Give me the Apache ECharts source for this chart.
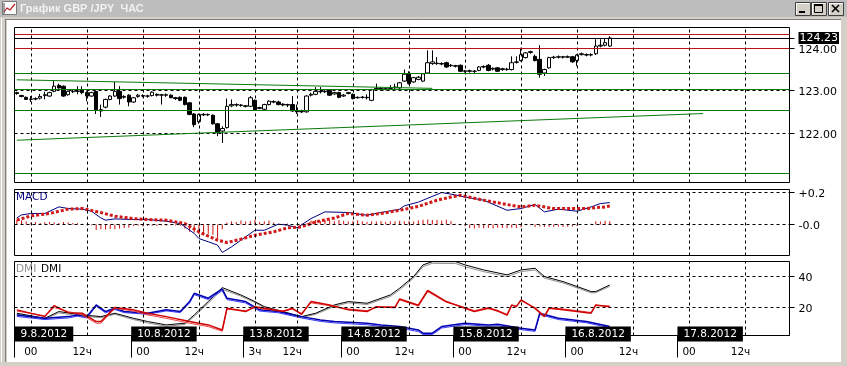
<!DOCTYPE html>
<html>
<head>
<meta charset="utf-8">
<title>График GBP/JPY ЧАС</title>
<script src="https://cdn.jsdelivr.net/npm/echarts@6.0.0/dist/echarts.min.js"></script>
<style>
html,body{margin:0;padding:0;background:#fff;overflow:hidden;}
#chart{width:847px;height:366px;}
</style>
</head>
<body>
<div id="chart"></div>
<script>
// ---------------- data ----------------
const SLOT_COUNT = 166;
const categories = [];
(function () {
  let d = 8, h = 21;
  for (let i = 0; i < SLOT_COUNT; i++) {
    categories.push(d + '.8.2012 ' + (h < 10 ? '0' : '') + h + ':00');
    h++; if (h === 24) { h = 0; d++; }
    if (d === 10 && h === 21) { d = 13; h = 0; }
  }
})();
const boundaryCategories = Array.from({ length: SLOT_COUNT + 1 }, (_, k) => String(k));

// candles: [open, close, low, high]
const ohlc = [
[122.95,122.93,122.90,122.97],[122.88,122.86,122.84,122.90],[122.84,122.79,122.78,122.86],[122.79,122.80,122.73,122.87],[122.80,122.81,122.77,122.84],
[122.82,122.86,122.79,122.92],[122.88,122.90,122.79,122.97],[122.87,122.95,122.85,122.97],[122.98,123.10,122.96,123.22],[123.12,123.06,123.04,123.16],
[123.10,122.87,122.85,123.12],[122.90,122.98,122.88,123.00],[122.97,122.98,122.94,123.03],[122.99,122.98,122.91,123.10],[123.02,122.95,122.91,123.10],
[122.95,122.87,122.75,122.98],[122.87,122.95,122.85,122.97],[122.98,122.55,122.45,123.00],[122.55,122.52,122.38,122.67],[122.61,122.79,122.58,122.81],
[122.79,122.87,122.77,122.89],[122.87,122.98,122.85,123.20],[122.98,122.81,122.67,123.10],[122.84,122.86,122.81,122.89],[122.89,122.73,122.63,122.91],
[122.73,122.83,122.71,122.85],[122.86,122.89,122.83,122.92],[122.88,122.87,122.84,122.91],[122.87,122.87,122.83,122.90],[122.88,122.96,122.86,122.98],
[122.91,122.89,122.86,122.93],[122.89,122.90,122.67,122.92],[122.90,122.89,122.85,122.93],[122.89,122.83,122.82,122.91],[122.83,122.81,122.78,122.85],
[122.84,122.77,122.75,122.86],[122.84,122.67,122.65,122.86],[122.71,122.44,122.42,122.73],[122.45,122.20,122.14,122.47],[122.27,122.44,122.22,122.46],
[122.44,122.43,122.40,122.47],[122.43,122.44,122.40,122.46],[122.42,122.22,122.20,122.44],[122.22,122.01,121.93,122.24],[122.05,122.11,121.77,122.16],
[122.13,122.63,122.11,122.81],[122.64,122.67,122.61,122.79],[122.67,122.66,122.62,122.70],[122.66,122.65,122.62,122.68],[122.64,122.63,122.60,122.66],
[122.63,122.83,122.61,122.87],[122.77,122.55,122.54,122.79],[122.58,122.60,122.56,122.62],[122.56,122.67,122.54,122.69],[122.67,122.75,122.65,122.77],
[122.74,122.73,122.70,122.77],[122.73,122.67,122.65,122.76],[122.68,122.66,122.63,122.70],[122.67,122.66,122.61,122.69],[122.67,122.52,122.50,122.87],
[122.52,122.50,122.45,122.67],[122.50,122.51,122.47,122.55],[122.50,122.87,122.48,122.89],[122.89,122.91,122.86,122.95],[122.91,122.98,122.89,123.08],
[122.98,122.97,122.93,123.08],[122.97,122.98,122.94,123.01],[123.00,122.89,122.87,123.02],[122.92,122.95,122.90,122.97],[122.95,122.84,122.82,122.97],
[122.87,122.89,122.85,122.92],[122.93,122.95,122.91,122.97],[122.91,122.81,122.79,122.93],[122.83,122.84,122.81,122.86],[122.84,122.84,122.81,122.87],
[122.84,122.83,122.79,122.91],[122.77,123.02,122.75,123.04],[123.03,123.05,123.00,123.16],[123.05,123.02,122.99,123.08],[123.03,123.04,123.00,123.06],
[123.05,123.06,123.02,123.13],[123.06,123.08,123.04,123.16],[123.06,123.18,123.04,123.20],[123.22,123.38,123.20,123.49],[123.39,123.16,123.14,123.45],
[123.20,123.30,123.18,123.32],[123.26,123.31,123.24,123.34],[123.22,123.39,123.20,123.41],[123.41,123.65,123.39,123.94],[123.63,123.67,123.60,123.94],
[123.64,123.63,123.60,123.78],[123.63,123.62,123.59,123.66],[123.65,123.55,123.53,123.67],[123.58,123.59,123.55,123.62],[123.58,123.57,123.54,123.60],
[123.59,123.45,123.43,123.61],[123.45,123.46,123.42,123.48],[123.46,123.45,123.42,123.49],[123.45,123.45,123.41,123.48],[123.47,123.55,123.45,123.57],
[123.55,123.56,123.52,123.59],[123.59,123.47,123.45,123.62],[123.50,123.52,123.47,123.54],[123.53,123.45,123.43,123.55],[123.49,123.51,123.46,123.53],
[123.50,123.49,123.46,123.53],[123.49,123.65,123.47,123.80],[123.66,123.67,123.63,123.80],[123.70,123.84,123.68,124.00],[123.77,123.88,123.75,123.90],
[123.89,123.91,123.86,123.93],[123.80,123.70,123.68,123.84],[123.73,123.38,123.30,124.06],[123.41,123.49,123.34,123.51],[123.53,123.77,123.51,123.79],
[123.77,123.78,123.74,123.81],[123.78,123.79,123.75,123.82],[123.79,123.78,123.75,123.81],[123.78,123.79,123.76,123.82],[123.79,123.67,123.65,123.81],
[123.70,123.83,123.57,123.85],[123.84,123.86,123.82,123.89],[123.84,123.83,123.80,123.87],[123.83,123.84,123.80,123.87],[123.86,124.04,123.83,124.20],
[124.04,124.06,124.01,124.20],[124.06,124.12,124.03,124.22],[124.04,124.23,124.02,124.27]
];

const priceTicks = [122, 123, 124];
const currentPrice = 124.23;
const redLevels = [124.31, 124.00];
const greenLevels = [123.41, 123.04, 122.53, 121.06];
const trendLines = [[[0, 121.835], [147, 122.46]], [[0, 123.25], [89, 123.05]]];

// MACD panel: [slot, value]
const macdLine = [[0,0.041],[1,0.06],[3,0.069],[6,0.069],[9,0.11],[11,0.10],[14,0.096],[16,0.083],[18,0.041],[19,0.027],[21,0.035],[25,0.031],[28,0.031],[32,0.021],[35,0.006],[38,-0.056],[39,-0.088],[41,-0.108],[43,-0.129],[44,-0.175],[46,-0.14],[48,-0.098],[51,-0.036],[53,-0.036],[56,0.002],[58,-0.004],[60,-0.021],[63,0.037],[66,0.079],[71,0.075],[75,0.058],[78,0.075],[82,0.096],[83,0.117],[86,0.14],[91,0.2],[93,0.19],[96,0.172],[100,0.152],[105,0.089],[108,0.1],[111,0.125],[113,0.079],[116,0.096],[120,0.083],[123,0.11],[125,0.131],[127,0.137]];
const signalLine = [[0,0.027],[3,0.054],[7,0.069],[11,0.096],[14,0.1],[18,0.075],[21,0.052],[25,0.037],[28,0.031],[32,0.027],[36,0.006],[39,-0.046],[43,-0.098],[45,-0.113],[48,-0.092],[51,-0.067],[55,-0.046],[58,-0.021],[61,-0.015],[64,0.016],[68,0.041],[71,0.069],[75,0.058],[78,0.069],[82,0.089],[86,0.113],[90,0.152],[93,0.172],[95,0.183],[100,0.152],[105,0.125],[108,0.11],[111,0.12],[115,0.1],[118,0.1],[122,0.1],[126,0.11],[127,0.116]];
const macdHist = [
0.027,0.025,0.02,0.012,0.015,0.01,0.014,0.016,0.012,0.01,
0.015,0.012,0.01,0.008,0.005,0,-0.004,-0.035,-0.03,-0.032,
-0.028,-0.03,-0.025,-0.022,-0.02,-0.01,-0.008,-0.012,-0.01,-0.008,
-0.01,-0.006,-0.008,-0.005,-0.006,-0.008,-0.025,-0.046,-0.05,-0.06,
-0.062,-0.058,-0.064,-0.088,-0.03,0.012,0.02,0.015,0.025,0.018,
0.022,0.03,0.015,0.02,0.025,0.012,0.005,0.004,0.006,0.003,
0.002,0.004,0.006,0.025,0.028,0.022,0.03,0.026,0.02,0.028,
0.024,0.018,0.022,0.026,0.02,0.016,0.02,0.018,0.022,0.015,
0.02,0.018,0.024,0.02,0.022,0.018,0.025,0.03,0.032,0.028,
0.03,0.025,0.03,0.02,0.005,-0.004,-0.008,-0.022,-0.025,-0.02,
-0.024,-0.022,-0.025,-0.02,-0.022,-0.024,-0.02,-0.022,-0.018,-0.005,
-0.004,-0.015,-0.012,-0.016,-0.014,-0.015,-0.012,-0.016,-0.014,-0.012,
-0.01,0,0.002,0.004,0.02,0.018,0.024,0.02
];
const macdTicks = [0, 0.2];

// DMI panel: [slot, value]
const plusDI = [[0,18.3],[6,13.9],[8,21.1],[11,16.5],[14,16.1],[17,10.7],[18,10.7],[21,19.8],[25,18.3],[28,16.1],[32,13.9],[37,10.7],[41,8.5],[44,5.2],[45,19.3],[49,17.2],[51,20.4],[53,19.3],[57,17.2],[59,19.3],[61,15.4],[63,23.7],[67,21.5],[71,18.3],[75,17.2],[77,20.4],[81,19.8],[82,25.4],[86,21.3],[88,30.9],[92,23.7],[95,20.4],[96,19.3],[98,17.2],[101,19.3],[103,17.5],[105,14.9],[106,21.5],[107,20.4],[108,24.8],[111,19.3],[113,13.9],[114,19.3],[117,18.3],[120,17.2],[123,16.1],[124,21.5],[127,20.4]];
const plusDI2 = [[0,17.5],[6,14.5],[8,19.8],[11,17.2],[14,15.0],[17,9.6],[18,9.6],[21,19.3],[25,17.5],[28,15.0],[32,12.8],[37,9.6],[41,7.4],[44,4.4],[45,18.7],[49,17.8],[51,19.8],[53,18.7],[57,17.8],[59,18.7],[61,16.1],[63,22.9],[67,21.0],[71,18.9],[75,17.8],[77,19.8],[81,20.4],[82,24.8],[86,20.8],[88,30.2],[92,23.2],[95,20.9],[96,19.8],[98,17.8],[101,19.8],[103,18.0],[105,15.4],[106,21.0],[107,20.9],[108,24.2],[111,19.8],[113,14.4],[114,19.8],[117,18.9],[120,17.8],[123,16.6],[124,21.0],[127,20.9]];
const minusDI = [[0,15.0],[6,12.8],[11,13.9],[13,15.0],[15,13.9],[17,21.5],[19,17.2],[21,19.3],[23,17.2],[28,16.1],[32,18.3],[35,17.2],[37,23.7],[38,29.1],[41,25.9],[44,31.9],[45,25.9],[49,23.7],[52,18.3],[56,17.2],[61,13.9],[65,11.7],[68,10.7],[75,9.6],[78,8.5],[82,7.4],[86,5.2],[87,3.1],[89,3.1],[91,7.4],[96,9.6],[101,8.5],[103,9.0],[108,6.3],[111,5.2],[112,16.1],[116,12.8],[122,10.7],[127,7.4]];
const minusDI2 = [[0,14.0],[6,12.0],[11,13.0],[13,14.2],[15,13.0],[17,20.6],[19,16.4],[21,18.5],[23,16.5],[28,15.4],[32,17.6],[35,16.5],[37,22.8],[38,28.2],[41,25.0],[44,30.8],[45,25.0],[49,22.8],[52,17.5],[56,16.4],[61,13.0],[65,10.8],[68,9.8],[75,8.6],[78,7.5],[82,6.3],[86,4.2],[87,2.2],[89,2.2],[91,6.5],[96,8.7],[101,7.6],[103,8.0],[108,5.4],[111,4.3],[112,15.2],[116,12.0],[122,9.9],[127,6.6]];
const adx = [[0,16.1],[6,12.8],[9,17.2],[14,15.0],[18,13.9],[21,16.1],[25,12.8],[28,10.7],[32,8.5],[36,9.6],[38,15.0],[41,23.7],[44,32.8],[48,28.0],[51,23.7],[53,20.4],[57,17.2],[61,13.9],[64,16.1],[68,21.5],[71,23.7],[75,22.6],[80,28.0],[82,32.4],[85,40.0],[87,47.6],[89,49.7],[94,49.7],[96,47.6],[100,44.3],[105,41.1],[108,44.3],[111,45.4],[113,40.0],[117,36.7],[120,33.5],[123,30.2],[124,30.2],[127,34.5]];
const adx2 = [[0,15.4],[6,12.2],[9,16.3],[14,14.3],[18,13.2],[21,15.4],[25,12.0],[28,9.8],[32,7.6],[36,8.8],[38,14.0],[41,22.6],[44,31.7],[48,27.2],[51,23.0],[53,19.7],[57,16.5],[61,13.4],[64,15.4],[68,20.6],[71,22.9],[75,21.8],[80,27.0],[82,31.3],[85,39.0],[87,46.5],[89,48.6],[94,48.5],[96,46.4],[100,43.2],[105,40.0],[108,43.2],[111,44.3],[113,39.0],[117,35.8],[120,32.6],[123,29.4],[124,29.5],[127,33.6]];
const dmiTicks = [20, 40];

// time axis
const gridSlots = [3,15,27,39,51,60,72,84,96,108,120,132,144,156];
const timeLabels = [[3,'00'],[14,'12ч'],[27,'00'],[38,'12ч'],[51,'3ч'],[59,'12ч'],[72,'00'],[83,'12ч'],[96,'00'],[107,'12ч'],[120,'00'],[131,'12ч'],[144,'00'],[155,'12ч']];
const dateLabels = [[0,'9.8.2012'],[25,'10.8.2012'],[49,'13.8.2012'],[70,'14.8.2012'],[94,'15.8.2012'],[118,'16.8.2012'],[142,'17.8.2012']];

// ---------------- chart ----------------
const FONT = 'DejaVu Sans';
const GREEN = '#0a7a0a';
const timeMap = new Map(timeLabels);
const dateMap = new Map(dateLabels);
const dash = [3, 3];

const vLines = gridSlots.map(s => ({ xAxis: s }));
function hLine(v, color, type) { return { yAxis: v, lineStyle: { color: color, type: type || 'solid', width: 1 } }; }

const grids = [
  { left: 14.5, right: 57.5, top: 27.5, height: 155 },
  { left: 14.5, right: 57.5, top: 189.5, height: 66 },
  { left: 14.5, right: 57.5, top: 261.5, height: 74 }
].map(g => Object.assign(g, { show: true, borderColor: '#000', borderWidth: 1, backgroundColor: 'transparent', containLabel: false }));

function catAxis(gi, extra) {
  return Object.assign({
    type: 'category', gridIndex: gi, data: categories, boundaryGap: true,
    axisLine: { show: false }, axisTick: { show: false }, axisLabel: { show: false }, splitLine: { show: false }
  }, extra || {});
}
function valAxis(gi, min, max, ticks, fmt) {
  return {
    type: 'value', gridIndex: gi, position: 'right', min: min, max: max,
    axisLine: { show: false }, splitLine: { show: false },
    axisTick: { show: true, length: 5, customValues: ticks, lineStyle: { color: '#000' } },
    axisLabel: {
      show: true, customValues: ticks, margin: 9, formatter: fmt,
      rich: {
        n: { fontFamily: FONT, fontSize: 11, color: '#000', padding: [4, 0, 0, 0] },
        cur: { fontFamily: FONT, fontSize: 11, color: '#fff', backgroundColor: '#000', padding: [1, 1, 0, 1] }
      }
    }
  };
}

const option = {
  animation: false,
  backgroundColor: '#ffffff',
  grid: grids,
  xAxis: [
    catAxis(0), catAxis(1),
    catAxis(2, {
      axisLabel: {
        show: true, interval: (i) => timeMap.has(i), formatter: (v, i) => timeMap.get(i) || '',
        margin: 11, fontFamily: FONT, fontSize: 10.5, color: '#000'
      }
    }),
    {
      type: 'category', gridIndex: 2, data: boundaryCategories, boundaryGap: false, position: 'bottom', z: 10,
      axisLine: { show: true, lineStyle: { color: '#000', width: 1 } },
      axisTick: { show: true, interval: (i) => dateMap.has(i), length: 22, lineStyle: { color: '#000' } },
      axisLabel: {
        show: true, interval: (i) => dateMap.has(i), formatter: (v, i) => '{d|' + dateMap.get(i) + '}',
        margin: -7, align: 'left',
        rich: { d: { fontFamily: FONT, fontSize: 10.5, color: '#fff', backgroundColor: '#000', padding: [2, 6, 2, 6], lineHeight: 11 } }
      },
      splitLine: { show: false }
    }
  ],
  yAxis: [
    valAxis(0, 120.845, 124.475, priceTicks.concat([currentPrice]),
      v => Math.abs(v - currentPrice) < 1e-6 ? '{cur|' + currentPrice.toFixed(2) + '}' : '{n|' + v.toFixed(2) + '}'),
    valAxis(1, -0.194, 0.219, macdTicks, v => '{n|' + (v > 0 ? '+' : '-') + Math.abs(v).toFixed(1) + '}'),
    valAxis(2, 1.6, 49.8, dmiTicks, v => '{n|' + v + '}')
  ],
  series: [
    {
      type: 'line', xAxisIndex: 0, yAxisIndex: 0, data: [], z: 1, silent: true,
      markLine: {
        silent: true, symbol: 'none', label: { show: false }, animation: false,
        lineStyle: { color: '#000', type: dash, width: 1 },
        data: vLines
          .concat(priceTicks.map(v => hLine(v, '#000', dash)))
          .concat(greenLevels.map(v => hLine(v, GREEN)))
          .concat(redLevels.map(v => hLine(v, '#b81414')))
          .concat([hLine(currentPrice, '#000')])
          .concat(trendLines.map(t => [{ coord: t[0], lineStyle: { color: GREEN, type: 'solid', width: 1 } }, { coord: t[1] }]))
      }
    },
    {
      type: 'candlestick', xAxisIndex: 0, yAxisIndex: 0, data: ohlc, barWidth: 4, z: 3,
      itemStyle: { color: '#ffffff', color0: '#000000', borderColor: '#000000', borderColor0: '#000000', borderWidth: 1 }
    },
    {
      type: 'line', xAxisIndex: 1, yAxisIndex: 1, data: [], z: 1, silent: true,
      markLine: {
        silent: true, symbol: 'none', label: { show: false }, animation: false,
        lineStyle: { color: '#000', type: dash, width: 1 },
        data: vLines.concat(macdTicks.map(v => hLine(v, '#000', dash)))
      }
    },
    { type: 'bar', xAxisIndex: 1, yAxisIndex: 1, data: macdHist, barWidth: 1, itemStyle: { color: '#cc1010' }, z: 2 },
    { type: 'line', xAxisIndex: 1, yAxisIndex: 1, data: macdLine, showSymbol: false, symbol: 'none', lineStyle: { color: '#000080', width: 1 }, z: 3 },
    { type: 'line', xAxisIndex: 1, yAxisIndex: 1, data: signalLine, showSymbol: false, symbol: 'none', lineStyle: { color: '#d01818', width: 3, type: [3, 2], cap: 'butt' }, z: 4 },
    {
      type: 'line', xAxisIndex: 2, yAxisIndex: 2, data: [], z: 1, silent: true,
      markLine: {
        silent: true, symbol: 'none', label: { show: false }, animation: false,
        lineStyle: { color: '#000', type: dash, width: 1 },
        data: vLines.concat(dmiTicks.map(v => hLine(v, '#000', dash)))
      }
    },
    { type: 'line', xAxisIndex: 2, yAxisIndex: 2, data: adx2, showSymbol: false, symbol: 'none', lineStyle: { color: '#909090', width: 1 }, z: 3 },
    { type: 'line', xAxisIndex: 2, yAxisIndex: 2, data: adx, showSymbol: false, symbol: 'none', lineStyle: { color: '#000000', width: 1 }, z: 3 },
    { type: 'line', xAxisIndex: 2, yAxisIndex: 2, data: minusDI2, showSymbol: false, symbol: 'none', lineStyle: { color: '#3a3aff', width: 1 }, z: 3 },
    { type: 'line', xAxisIndex: 2, yAxisIndex: 2, data: minusDI, showSymbol: false, symbol: 'none', lineStyle: { color: '#0000b0', width: 1.5 }, z: 3 },
    { type: 'line', xAxisIndex: 2, yAxisIndex: 2, data: plusDI2, showSymbol: false, symbol: 'none', lineStyle: { color: '#ee4444', width: 1 }, z: 3 },
    { type: 'line', xAxisIndex: 2, yAxisIndex: 2, data: plusDI, showSymbol: false, symbol: 'none', lineStyle: { color: '#d00000', width: 1.5 }, z: 3 }
  ],
  graphic: [
    // window chrome
    { type: 'rect', shape: { x: 0, y: 0, width: 847, height: 19 }, style: { fill: '#c0c0c0' }, silent: true },
    { type: 'rect', shape: { x: 0, y: 17, width: 847, height: 3 }, style: { fill: '#d4d0c8' }, silent: true },
    { type: 'rect', shape: { x: 0, y: 0, width: 7, height: 366 }, style: { fill: '#d4d0c8' }, silent: true },
    { type: 'line', shape: { x1: 1.5, y1: 18, x2: 1.5, y2: 366 }, style: { stroke: '#ffffff', lineWidth: 1 }, silent: true },
    { type: 'line', shape: { x1: 5.5, y1: 19, x2: 5.5, y2: 362 }, style: { stroke: '#808080', lineWidth: 1 }, silent: true },
    { type: 'line', shape: { x1: 6, y1: 19.5, x2: 841, y2: 19.5 }, style: { stroke: '#808080', lineWidth: 1 }, silent: true },
    { type: 'rect', shape: { x: 841, y: 0, width: 6, height: 366 }, style: { fill: '#d4d0c8' }, silent: true },
    { type: 'rect', shape: { x: 0, y: 362, width: 847, height: 4 }, style: { fill: '#d4d0c8' }, silent: true },
    { type: 'rect', shape: { x: 0, y: 0, width: 847, height: 17 }, style: { fill: '#bdbdbd' }, silent: true },
    // icon
    { type: 'rect', shape: { x: 2.5, y: 1.5, width: 14, height: 13 }, style: { fill: '#ffffff', stroke: '#7a7a7a', lineWidth: 1 }, silent: true },
    { type: 'polyline', shape: { points: [[4, 12], [7, 8], [10, 10], [15, 4]] }, style: { stroke: '#c02020', lineWidth: 1.2, fill: null }, silent: true },
    { type: 'polyline', shape: { points: [[4, 14], [4, 3]] }, style: { stroke: '#404040', lineWidth: 1, fill: null }, silent: true },
    { type: 'text', style: { x: 20, y: 8.5, text: 'График GBP /JPY  ЧАС', font: 'bold 11px "Liberation Sans"', fill: '#f2f2f2', verticalAlign: 'middle' }, silent: true },
    // buttons
    ...[795, 811, 828].map(bx => ({ type: 'rect', shape: { x: bx + 0.5, y: 2.5, width: 15, height: 13 }, style: { fill: '#d4d0c8', stroke: '#404040', lineWidth: 1 }, silent: true })),
    ...[795, 811, 828].map(bx => ({ type: 'polyline', shape: { points: [[bx + 1.5, 14.5], [bx + 1.5, 3.5], [bx + 14.5, 3.5]] }, style: { stroke: '#ffffff', lineWidth: 1, fill: null }, silent: true })),
    { type: 'rect', shape: { x: 799, y: 11, width: 6, height: 2 }, style: { fill: '#000' }, silent: true },
    { type: 'rect', shape: { x: 814.5, y: 4.5, width: 8, height: 8 }, style: { fill: 'none', stroke: '#000', lineWidth: 1 }, silent: true },
    { type: 'rect', shape: { x: 814, y: 4, width: 9, height: 2 }, style: { fill: '#000' }, silent: true },
    { type: 'line', shape: { x1: 832, y1: 5, x2: 839, y2: 12 }, style: { stroke: '#000', lineWidth: 1.6 }, silent: true },
    { type: 'line', shape: { x1: 839, y1: 5, x2: 832, y2: 12 }, style: { stroke: '#000', lineWidth: 1.6 }, silent: true },
    // panel captions
    { type: 'text', style: { x: 16, y: 191.5, text: 'MACD', font: '10.5px "DejaVu Sans"', fill: '#000080' }, silent: true },
    { type: 'text', style: { x: 16, y: 263.5, text: 'DMI', font: '10.5px "DejaVu Sans"', fill: '#909090' }, silent: true },
    { type: 'text', style: { x: 41, y: 263.5, text: 'DMI', font: '10.5px "DejaVu Sans"', fill: '#000' }, silent: true }
  ]
};

const chart = echarts.init(document.getElementById('chart'), null, { renderer: 'canvas', width: 847, height: 366 });
chart.setOption(option);
</script>
</body>
</html>
